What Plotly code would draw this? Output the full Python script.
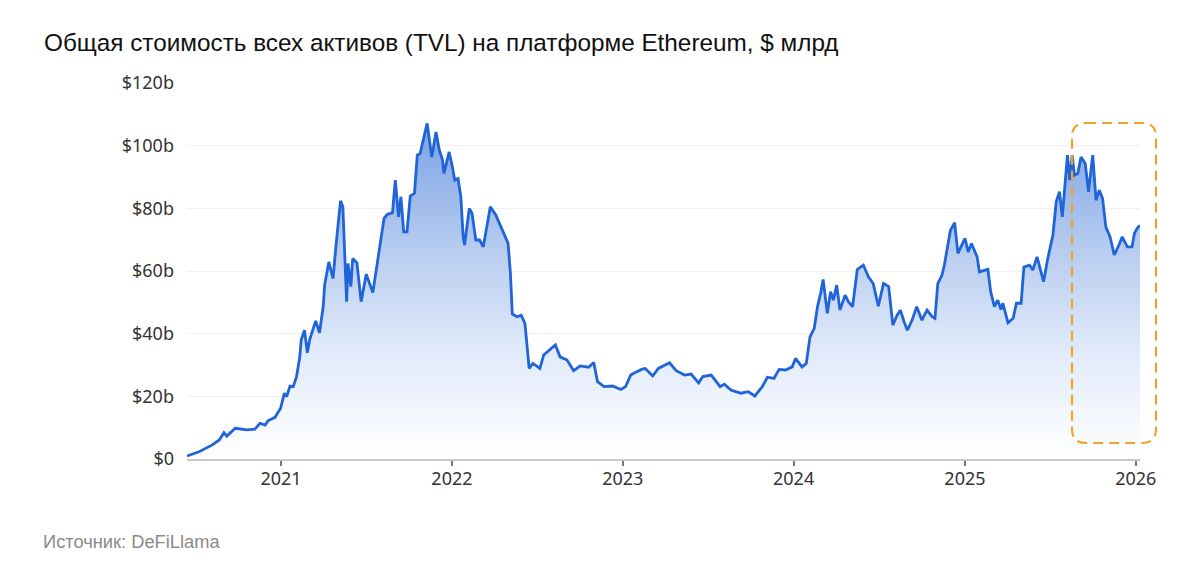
import plotly.graph_objects as go

# ---- data ----
dates = [
    "2020-06-14", "2020-07-10", "2020-08-07", "2020-08-22", "2020-09-01", "2020-09-07", "2020-09-25",
    "2020-10-20", "2020-11-06", "2020-11-17", "2020-11-28", "2020-12-04", "2020-12-19", "2020-12-31",
    "2021-01-08", "2021-01-13", "2021-01-20", "2021-01-27", "2021-02-03", "2021-02-10", "2021-02-13",
    "2021-02-20", "2021-02-26", "2021-03-03", "2021-03-16", "2021-03-24", "2021-04-01", "2021-04-04",
    "2021-04-13", "2021-04-22", "2021-04-28", "2021-05-08", "2021-05-13", "2021-05-21", "2021-05-24",
    "2021-05-30", "2021-06-03", "2021-06-12", "2021-06-21", "2021-07-02", "2021-07-16", "2021-07-29",
    "2021-08-09", "2021-08-16", "2021-08-27", "2021-09-02", "2021-09-09", "2021-09-14", "2021-09-20",
    "2021-09-27", "2021-10-04", "2021-10-13", "2021-10-19", "2021-10-25", "2021-11-01", "2021-11-09",
    "2021-11-19", "2021-11-28", "2021-12-05", "2021-12-12", "2021-12-15", "2021-12-26", "2022-01-02",
    "2022-01-07", "2022-01-14", "2022-01-20", "2022-01-25", "2022-01-28", "2022-02-07", "2022-02-13",
    "2022-02-21", "2022-03-01", "2022-03-09", "2022-03-24", "2022-04-05", "2022-04-21", "2022-05-01",
    "2022-05-06", "2022-05-10", "2022-05-20", "2022-05-29", "2022-06-06", "2022-06-15", "2022-06-23",
    "2022-07-08", "2022-07-16", "2022-07-28", "2022-08-10", "2022-08-20", "2022-09-04", "2022-09-18",
    "2022-10-02", "2022-10-20", "2022-10-31", "2022-11-08", "2022-11-22", "2022-12-10", "2022-12-28",
    "2023-01-07", "2023-01-18", "2023-01-30", "2023-02-10", "2023-02-18", "2023-03-06", "2023-03-18",
    "2023-04-11", "2023-04-25", "2023-05-13", "2023-05-27", "2023-06-12", "2023-06-21", "2023-07-09",
    "2023-07-28", "2023-08-06", "2023-08-20", "2023-09-10", "2023-09-26", "2023-10-10", "2023-10-26",
    "2023-11-06", "2023-11-20", "2023-12-01", "2023-12-15", "2023-12-29", "2024-01-05", "2024-01-19",
    "2024-01-28", "2024-02-05", "2024-02-14", "2024-02-21", "2024-02-28", "2024-03-04", "2024-03-13",
    "2024-03-20", "2024-03-26", "2024-04-02", "2024-04-09", "2024-04-20", "2024-04-27", "2024-05-06",
    "2024-05-16", "2024-05-29", "2024-06-09", "2024-06-19", "2024-06-30", "2024-07-11", "2024-07-22",
    "2024-07-31", "2024-08-09", "2024-08-16", "2024-08-24", "2024-08-31", "2024-09-10", "2024-09-20",
    "2024-10-01", "2024-10-12", "2024-10-22", "2024-10-29", "2024-11-04", "2024-11-13", "2024-11-18",
    "2024-11-24", "2024-12-01", "2024-12-10", "2024-12-17", "2025-01-01", "2025-01-08", "2025-01-15",
    "2025-01-27", "2025-02-01", "2025-02-19", "2025-02-25", "2025-03-05", "2025-03-12", "2025-03-19",
    "2025-03-23", "2025-04-03", "2025-04-14", "2025-04-21", "2025-05-01", "2025-05-07", "2025-05-19",
    "2025-05-26", "2025-06-04", "2025-06-11", "2025-06-18", "2025-06-27", "2025-07-08", "2025-07-15",
    "2025-07-22", "2025-07-28", "2025-08-02", "2025-08-08", "2025-08-13", "2025-08-18", "2025-08-23",
    "2025-08-30", "2025-09-06", "2025-09-15", "2025-09-22", "2025-10-01", "2025-10-08", "2025-10-15",
    "2025-10-22", "2025-10-29", "2025-11-07", "2025-11-16", "2025-11-26", "2025-12-03", "2025-12-14",
    "2025-12-24", "2025-12-29", "2026-01-04", "2026-01-10",
]
tvl_bn = [
    1.0, 2.3, 4.5, 6.1, 8.4, 7.3, 9.8,
    9.3, 9.5, 11.4, 10.8, 12.2, 13.3, 16.2,
    21.0, 19.9, 23.3, 23.1, 26.3, 32.6, 38.0,
    41.1, 33.9, 38.0, 44.1, 40.3, 48.6, 55.5,
    62.9, 57.6, 67.7, 82.4, 80.5, 50.2, 62.4,
    55.0, 64.0, 62.6, 50.2, 59.0, 53.1, 65.6,
    76.8, 78.1, 78.6, 89.0, 77.3, 83.7, 72.5,
    72.5, 83.9, 84.8, 97.0, 97.5, 101.8, 107.1,
    96.4, 104.4, 98.6, 95.4, 91.1, 98.0, 93.2,
    89.0, 89.5, 83.7, 70.9, 68.3, 80.0, 78.4,
    69.9, 69.9, 67.7, 80.5, 77.8, 72.5, 68.8,
    59.2, 46.3, 45.4, 45.9, 43.3, 28.9, 30.5,
    28.9, 33.2, 34.8, 36.4, 32.6, 31.6, 28.2,
    29.7, 29.3, 30.8, 24.7, 23.1, 23.3, 22.2,
    23.1, 26.8, 27.8, 28.6, 28.9, 26.5, 28.9,
    30.7, 28.2, 26.8, 27.1, 24.3, 26.3, 26.8,
    23.1, 23.9, 22.0, 21.0, 21.5, 20.1, 23.1,
    26.1, 25.7, 28.6, 28.4, 29.4, 32.1, 29.4,
    30.5, 39.0, 41.7, 48.6, 53.1, 57.3, 46.5,
    53.4, 50.7, 55.5, 47.5, 52.3, 50.2, 48.6,
    60.5, 61.9, 58.1, 56.0, 48.8, 56.0, 55.0,
    42.7, 45.9, 47.5, 43.8, 41.1, 44.3, 48.6,
    44.3, 47.5, 45.6, 44.9, 56.0, 58.7, 61.9,
    67.7, 73.0, 75.4, 65.6, 70.4, 66.1, 68.8,
    64.5, 59.7, 60.5, 53.4, 48.6, 50.7, 47.7,
    49.7, 43.5, 44.9, 49.7, 49.7, 61.3, 61.9,
    60.3, 64.5, 60.8, 56.6, 64.0, 71.5, 82.1,
    85.3, 77.3, 86.3, 97.0, 89.0, 97.0, 90.6,
    91.1, 96.4, 94.3, 85.3, 97.0, 82.6, 85.8,
    83.2, 74.1, 70.9, 65.1, 68.3, 70.9, 67.7,
    67.7, 72.0, 73.6, 74.6,
]
y_ticks = [0, 20, 40, 60, 80, 100, 120]
y_tick_labels = ["$0", "$20b", "$40b", "$60b", "$80b", "$100b", "$120b"]
x_ticks = ["2021-01-01", "2022-01-01", "2023-01-01", "2024-01-01", "2025-01-01", "2026-01-01"]
x_tick_labels = ["2021", "2022", "2023", "2024", "2025", "2026"]

title_text = "Общая стоимость всех активов (TVL) на платформе Ethereum, $ млрд"
source_text = "Источник: DeFiLlama"

# ---- layout geometry (page has an 8px body margin) ----
OFF = 8
W, H = 1200 - OFF, 572 - OFF
ML, MR, MT, MB = 187 - OFF, 60, 83 - OFF, 113
PW, PH = W - ML - MR, H - MT - MB

fig = go.Figure()
fig.add_trace(go.Scatter(
    x=dates, y=tvl_bn, mode="lines",
    line=dict(color="#1f64d8", width=2.8),
    fill="tozeroy",
    fillgradient=dict(
        type="vertical", start=0, stop=110,
        colorscale=[[0, "rgba(255,255,255,1)"], [0.3, "rgba(226,235,250,1)"],
                    [0.6, "rgba(184,205,240,1)"], [1, "rgba(118,158,228,1)"]],
    ),
    hoverinfo="skip", showlegend=False,
))

# helpers: page pixel -> paper coords
def px(x): return (x - OFF - ML) / PW
def py(y): return (H - MB - (y - OFF)) / PH

# dashed rounded highlight box
bx0, bx1, by0, by1 = 1072, 1156, 123, 443
rad = 14
rx, ry = rad / PW, rad / PH
L, R, T, B = px(bx0), px(bx1), py(by0), py(by1)
path = (f"M {L+rx},{T} L {R-rx},{T} Q {R},{T} {R},{T-ry} "
        f"L {R},{B+ry} Q {R},{B} {R-rx},{B} "
        f"L {L+rx},{B} Q {L},{B} {L},{B+ry} "
        f"L {L},{T-ry} Q {L},{T} {L+rx},{T} Z")
fig.add_shape(type="path", path=path, xref="paper", yref="paper",
              line=dict(color="#f0a326", width=2.2, dash="10px,6px"),
              fillcolor="rgba(0,0,0,0)", layer="above")

fig.update_layout(
    width=W, height=H,
    margin=dict(l=ML, r=MR, t=MT, b=MB),
    paper_bgcolor="white", plot_bgcolor="white",
    font=dict(family="Noto Sans", color="#333333", size=18),
    annotations=[
        dict(text=title_text, x=px(43), y=py(43), xref="paper", yref="paper", showarrow=False,
             font=dict(family="Liberation Sans, Arial", size=24.3, color="#111111"),
             xanchor="left", yanchor="middle", borderpad=0),
        dict(text=source_text, x=px(42), y=py(541), xref="paper", yref="paper", showarrow=False,
             font=dict(family="Liberation Sans, Arial", size=18.3, color="#8a8a8a"),
             xanchor="left", yanchor="middle", borderpad=0),
    ],
)

fig.update_xaxes(
    range=[dates[0], dates[-1]],
    tickvals=x_ticks, ticktext=x_tick_labels,
    ticks="outside", ticklen=5, tickwidth=1.5, tickcolor="#777777",
    ticklabelstandoff=-2,
    showgrid=False, showline=True, linecolor="#c8c8c8", linewidth=1.5,
    zeroline=False, tickfont=dict(size=18, color="#333333"),
)
fig.update_yaxes(
    range=[0, 120], tickvals=y_ticks, ticktext=y_tick_labels,
    showgrid=True, gridcolor="#f1f1f1", gridwidth=1,
    zeroline=False, showline=False, ticks="",
    ticklabelstandoff=12, tickfont=dict(size=18, color="#333333"),
)

fig.write_html("out.html")
